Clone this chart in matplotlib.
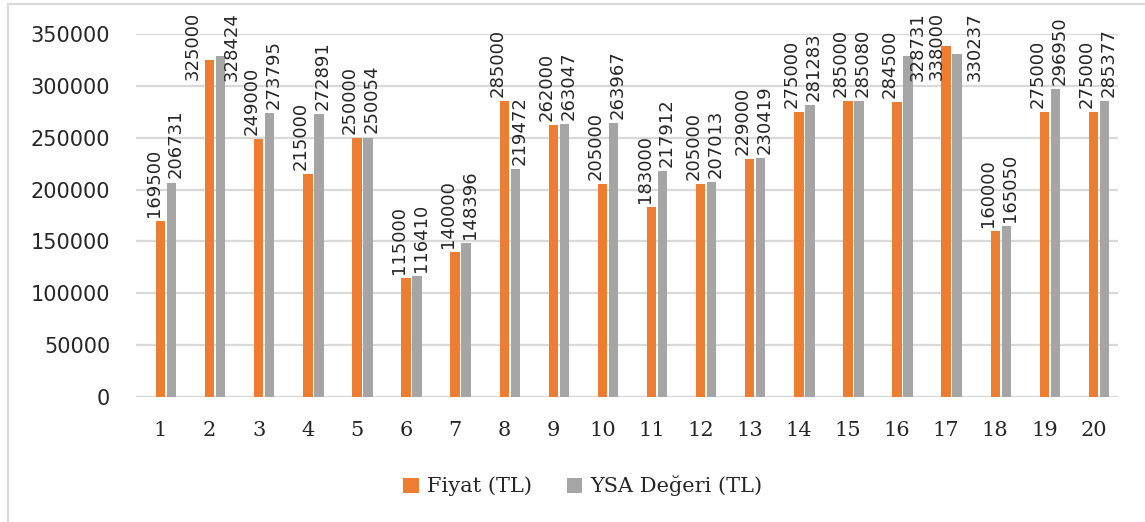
import numpy as np
import matplotlib
matplotlib.use("Agg")
import matplotlib.pyplot as plt
from matplotlib.lines import Line2D
from matplotlib.patches import Patch

# Chart data
categories = [str(i) for i in range(1, 21)]
fiyat = [169500, 325000, 249000, 215000, 250000, 115000, 140000, 285000, 262000, 205000,
         183000, 205000, 229000, 275000, 285000, 284500, 338000, 160000, 275000, 275000]
ysa = [206731, 328424, 273795, 272891, 250054, 116410, 148396, 219472, 263047, 263967,
       217912, 207013, 230419, 281283, 285080, 328731, 330237, 165050, 296950, 285377]
series_names = ["Fiyat (TL)", "YSA Değeri (TL)"]
y_ticks = list(range(0, 350001, 50000))

ORANGE = "#ED7D31"
GREY = "#A5A5A5"
GRID = "#D9D9D9"
TEXT = "#262626"

W, H = 1145, 522
fig = plt.figure(figsize=(W / 100, H / 100), dpi=100)
ax = fig.add_axes([136 / W, 1 - 397 / H, (1118 - 136) / W, (397 - 34) / H])

x = np.arange(len(categories))
bw = 0.19
step = 0.224
b1 = ax.bar(x, fiyat, width=bw, color=ORANGE, zorder=3)
b2 = ax.bar(x + step, ysa, width=bw, color=GREY, zorder=3)

ax.set_xlim(-0.5, len(categories) - 0.5)
ax.set_ylim(0, 350000)
ax.set_yticks(y_ticks)
ax.set_yticklabels([str(v) for v in y_ticks], fontsize=15, family="DejaVu Sans", color=TEXT)
ax.set_xticks(x)
ax.set_xticklabels(categories, fontsize=15, family="DejaVu Serif", color=TEXT)
ax.tick_params(axis="both", length=0)
ax.tick_params(axis="y", pad=18.5)
ax.tick_params(axis="x", pad=17)
ax.grid(axis="y", color=GRID, linewidth=1.6, zorder=0)
for s in ax.spines.values():
    s.set_visible(False)
ax.axhline(0, color=GRID, linewidth=1.6, zorder=2)

# Value labels, rotated, sitting on top of each bar; kept inside the chart area.
# Horizontal offsets in pixels keep the two labels of a pair apart.
top_limit_px = H - 12
default_dx = {0: -7, 1: 4}
crowded_dx = {(0, 1): -17, (1, 1): 11, (1, 15): 10, (0, 16): -9, (1, 16): 18}
px2pt = 72 / fig.dpi
fig.canvas.draw()
renderer = fig.canvas.get_renderer()
for si, (bars, vals) in enumerate([(b1, fiyat), (b2, ysa)]):
    for i, (rect, v) in enumerate(zip(bars, vals)):
        cx = rect.get_x() + rect.get_width() / 2
        dx = crowded_dx.get((si, i), default_dx[si]) * px2pt
        t = ax.annotate(str(v), xy=(cx, v), xytext=(dx, 3),
                        textcoords="offset points", rotation=90, ha="center", va="bottom",
                        fontsize=13, family="DejaVu Sans", color=TEXT,
                        annotation_clip=False, zorder=5)
        bb = t.get_window_extent(renderer)
        if bb.y1 > top_limit_px:
            shift = (bb.y1 - top_limit_px) * px2pt
            t.set_position((dx, 3 - shift))

# Legend below the plot
handles = [Patch(facecolor=ORANGE, edgecolor="none"), Patch(facecolor=GREY, edgecolor="none")]
fig.legend(handles, series_names, loc="center", bbox_to_anchor=(583 / W, 1 - 486 / H),
           ncol=2, frameon=False, prop={"family": "DejaVu Serif", "size": 15},
           handlelength=0.75, handleheight=0.75, handletextpad=0.4, columnspacing=1.65)
for txt in fig.legends[0].get_texts():
    txt.set_color(TEXT)

# Chart-area border on the left and top
fig.add_artist(Line2D([8 / W, 8 / W], [0, 1 - 4 / H], transform=fig.transFigure,
                      color=GRID, linewidth=1.5))
fig.add_artist(Line2D([8 / W, 1], [1 - 4 / H, 1 - 4 / H], transform=fig.transFigure,
                      color=GRID, linewidth=1.5))

fig.savefig("out.png", dpi=100, facecolor="white")
